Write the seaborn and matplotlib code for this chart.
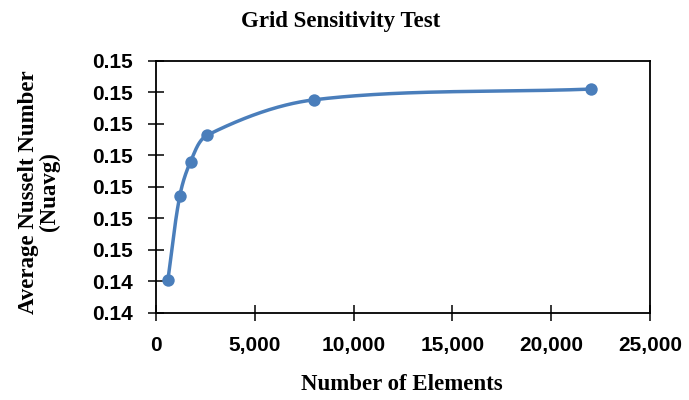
import numpy as np
import pandas as pd
import matplotlib
matplotlib.use("Agg")
import matplotlib.pyplot as plt
import seaborn as sns

# ---- data ----
elements = [600, 1200, 1750, 2600, 8000, 22000]
nu_avg = [0.14452, 0.14585, 0.14640, 0.14682, 0.14738, 0.14755]
y_ticks = [0.1440, 0.1445, 0.1450, 0.1455, 0.1460, 0.1465, 0.1470, 0.1475, 0.1480]
y_tick_labels = ["0.14", "0.14", "0.15", "0.15", "0.15", "0.15", "0.15", "0.15", "0.15"]
x_ticks = [0, 5000, 10000, 15000, 20000, 25000]
x_tick_labels = ["0", "5,000", "10,000", "15,000", "20,000", "25,000"]

title = "Grid Sensitivity Test"
xlabel = "Number of Elements"
ylabel = "Average Nusselt Number\n(Nuavg)"

# axes box in figure pixels
AX_L, AX_R, AX_T, AX_B = 156, 650, 60.7, 313
W, H = 689, 400

# ---- smoothing (Excel-like Bezier with length-weighted tangents, screen space) ----
def smooth(xs, ys, n=80):
    P = np.column_stack([xs, ys]).astype(float)
    span = np.array([x_ticks[-1] - x_ticks[0], y_ticks[-1] - y_ticks[0]])
    pix = np.array([AX_R - AX_L, AX_B - AX_T])
    Q = P / span * pix
    m = len(Q)
    d = np.linalg.norm(np.diff(Q, axis=0), axis=1)
    out = []
    for i in range(m - 1):
        p1, p2 = Q[i], Q[i + 1]
        if i > 0:
            c1 = p1 + (p2 - Q[i - 1]) * d[i] / (d[i - 1] + d[i]) / 3
        else:
            c1 = p1 + (p2 - p1) / 3
        if i + 2 < m:
            c2 = p2 - (Q[i + 2] - p1) * d[i] / (d[i] + d[i + 1]) / 3
        else:
            c2 = p2 - (p2 - p1) / 3
        t = np.linspace(0, 1, n)[:, None]
        seg = ((1 - t) ** 3) * p1 + 3 * ((1 - t) ** 2) * t * c1 + 3 * (1 - t) * t ** 2 * c2 + t ** 3 * p2
        out.append(seg if i == 0 else seg[1:])
    S = np.vstack(out) / pix * span
    return S[:, 0], S[:, 1]

sx, sy = smooth(elements, nu_avg)
curve = pd.DataFrame({"x": sx, "y": sy})
pts = pd.DataFrame({"x": elements, "y": nu_avg})

sns.set_theme(style="white")
plt.rcParams["font.family"] = ["Liberation Sans", "DejaVu Sans"]

fig = plt.figure(figsize=(W / 100, H / 100), dpi=100)
ax = fig.add_axes([AX_L / W, 1 - AX_B / H, (AX_R - AX_L) / W, (AX_B - AX_T) / H])

color = "#4A7EBB"
sns.lineplot(data=curve, x="x", y="y", ax=ax, color=color, linewidth=2.5, sort=False, estimator=None)
sns.scatterplot(data=pts, x="x", y="y", ax=ax, color=color, s=80, edgecolor=color, linewidth=0, zorder=5)

ax.set_xlim(x_ticks[0], x_ticks[-1])
ax.set_ylim(y_ticks[0], y_ticks[-1])
ax.set_xticks(x_ticks)
ax.set_xticklabels(x_tick_labels)
ax.set_yticks(y_ticks)
ax.set_yticklabels(y_tick_labels)

for lab in ax.get_xticklabels() + ax.get_yticklabels():
    lab.set_fontweight("bold")
    lab.set_fontsize(15)
    lab.set_color("black")

ax.tick_params(axis="both", direction="inout", length=11, width=1.1, color="black",
               bottom=True, left=True)
ax.tick_params(axis="y", pad=11)
ax.tick_params(axis="x", pad=11)
for sp in ax.spines.values():
    sp.set_visible(True)
    sp.set_color("black")
    sp.set_linewidth(1.3)

serif = ["Liberation Serif", "DejaVu Serif"]
ax.set_xlabel("")
ax.set_ylabel("")
fig.text(341 / W, 1 - 21 / H, title, ha="center", va="center", color="black",
         fontsize=16.5, fontweight="bold", family=serif)
fig.text(402 / W, 1 - 385 / H, xlabel, ha="center", va="center", color="black",
         fontsize=16.5, fontweight="bold", family=serif)
fig.text(39 / W, 1 - 192 / H, ylabel, ha="center", va="center", rotation=90, color="black",
         fontsize=16.5, fontweight="bold", family=serif, linespacing=1.0)

fig.savefig("out.png", dpi=100)
